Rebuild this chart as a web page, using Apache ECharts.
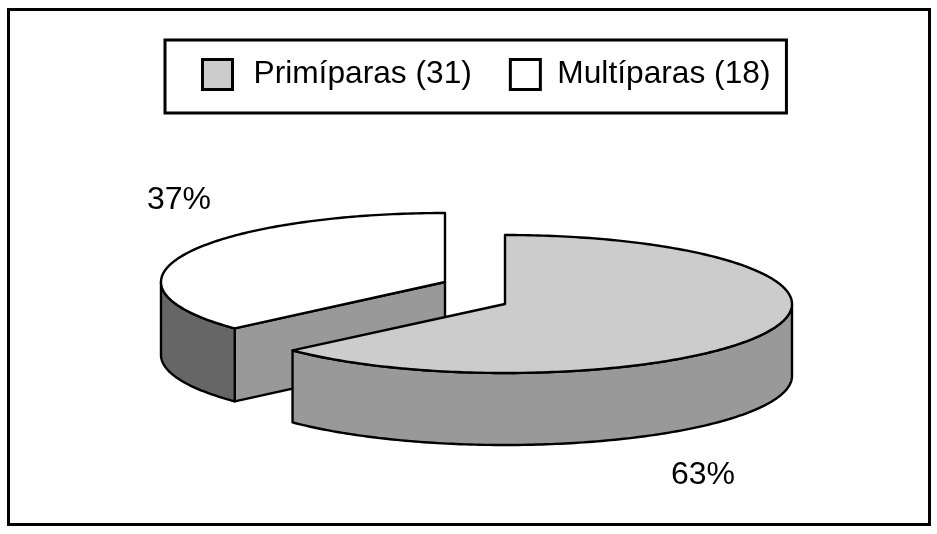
<!DOCTYPE html>
<html>
<head>
<meta charset="utf-8">
<style>html,body{margin:0;padding:0;background:#fff}#c{width:937px;height:534px}</style>
<script src="https://cdn.jsdelivr.net/npm/echarts@6/dist/echarts.min.js"></script>
</head>
<body>
<div id="c"></div>
<script>
const categories = ['Primíparas (31)', 'Multíparas (18)'];
const values = [31, 18];
const topColors = ['#cccccc', '#ffffff'];
const legendTextGaps = [16, 12];
const FONT = '"Liberation Sans", Arial, sans-serif';
const total = values.reduce((a, b) => a + b, 0);

// Layout of each exploded slice and its label
const layouts = [
  { cx: 505, cy: 304, rx: 287, ry: 69, depth: 72, labelX: 703, labelY: 475 },
  { cx: 445, cy: 282, rx: 284, ry: 69, depth: 73, labelX: 179, labelY: 200 }
];

function pointAt(l, t, dy) {
  return [l.cx + l.rx * Math.sin(t), l.cy - l.ry * Math.cos(t) + (dy || 0)];
}
function arc(l, a, b, dy) {
  const n = Math.max(2, Math.ceil(Math.abs(b - a) * 60)), out = [];
  for (let i = 0; i <= n; i++) out.push(pointAt(l, a + (b - a) * i / n, dy));
  return out;
}
function poly(points, fill, z) {
  return {
    type: 'polygon', z2: z,
    shape: { points },
    style: { fill, stroke: '#000', lineWidth: 2.4, lineJoin: 'round' }
  };
}

function slice(seriesIndex) {
  return function (params, api) {
    const l = layouts[seriesIndex];
    const before = values.slice(0, seriesIndex).reduce((a, b) => a + b, 0);
    const a0 = before / total * 2 * Math.PI;
    const a1 = a0 + api.value(0) / total * 2 * Math.PI;
    const c = [l.cx, l.cy], cBelow = [l.cx, l.cy + l.depth];
    const children = [];
    // radial side wall that faces the viewer
    if (a1 > 1.5 * Math.PI && a0 > Math.PI / 2) {
      const tip = pointAt(l, a0), tipB = pointAt(l, a0, l.depth);
      children.push(poly([c, tip, tipB, cBelow], '#999999', 1));
    }
    // rim wall: only the part of the arc on the front half
    const from = Math.max(a0, Math.PI / 2), to = Math.min(a1, 1.5 * Math.PI);
    if (to > from) {
      const rimTop = arc(l, from, to, 0);
      const rimBottom = arc(l, to, from, l.depth);
      children.push(poly(rimTop.concat(rimBottom), seriesIndex === 0 ? '#999999' : '#666666', 2));
    }
    // top face
    children.push(poly([c].concat(arc(l, a0, a1, 0)), topColors[seriesIndex], 3));
    // percentage label
    children.push({
      type: 'text', z2: 4,
      style: {
        x: l.labelX, y: l.labelY,
        text: Math.round(api.value(0) / total * 100) + '%',
        fill: '#000', font: '32px ' + FONT,
        textAlign: 'center', textVerticalAlign: 'middle'
      }
    });
    return { type: 'group', children };
  };
}

const chart = echarts.init(document.getElementById('c'), null, { renderer: 'canvas' });
chart.setOption({
  animation: false,
  backgroundColor: '#fff',
  tooltip: { show: false },
  legend: {
    left: 165, top: 40,
    orient: 'horizontal',
    padding: [18, 16, 22, 36],
    itemGap: 37,
    itemWidth: 30, itemHeight: 30,
    borderColor: '#000', borderWidth: 3,
    selectedMode: false,
    textStyle: { color: '#000', fontFamily: FONT, fontSize: 31.7 },
    data: categories.map((name, i) => ({
      name, icon: 'rect',
      textStyle: { padding: [0, 0, 0, legendTextGaps[i]] },
      itemStyle: { color: topColors[i], borderColor: '#000', borderWidth: 3 }
    }))
  },
  graphic: [{
    type: 'rect', silent: true, z: -1,
    shape: { x: 8.5, y: 9.5, width: 921, height: 515 },
    style: { fill: 'none', stroke: '#000', lineWidth: 3 }
  }],
  series: [1, 0].map(i => ({
    type: 'custom',
    name: categories[i],
    coordinateSystem: 'none',
    itemStyle: { color: topColors[i] },
    renderItem: slice(i),
    data: [[values[i]]],
    silent: true
  }))
});
</script>
</body>
</html>
